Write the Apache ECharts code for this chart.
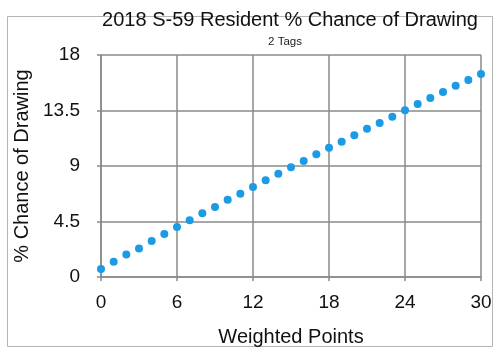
<!DOCTYPE html>
<html>
<head>
<meta charset="utf-8">
<script src="https://cdn.jsdelivr.net/npm/echarts@6/dist/echarts.min.js"></script>
<style>
html,body{margin:0;padding:0;background:#fff;}
#chart{width:500px;height:352px;}
</style>
</head>
<body>
<div id="chart"></div>
<script>
const titleText = "2018 S-59 Resident % Chance of Drawing";
const subtitleText = "2 Tags";
const xAxisName = "Weighted Points";
const yAxisName = "% Chance of Drawing";
const weightedPoints = [0,1,2,3,4,5,6,7,8,9,10,11,12,13,14,15,16,17,18,19,20,21,22,23,24,25,26,27,28,29,30];
const chancePct = [0.65,1.24,1.83,2.32,2.92,3.49,4.05,4.6,5.17,5.68,6.27,6.76,7.3,7.84,8.38,8.9,9.41,9.95,10.47,10.97,11.49,12.03,12.49,13.0,13.53,14.03,14.52,15.0,15.51,15.98,16.46];
const yTicks = [0,4.5,9,13.5,18];
const xTicks = [0,6,12,18,24,30];

const FONT = "Liberation Sans, Arial, Helvetica, sans-serif";
const chart = echarts.init(document.getElementById('chart'), null, {renderer:'canvas'});
const gridColor = '#8a8a8a';
chart.setOption({
  animation:false,
  backgroundColor:'#fff',
  graphic:[{
    type:'rect', shape:{x:7.5,y:16.5,width:485,height:330},
    style:{fill:'none',stroke:'#b4b4b4',lineWidth:1}, z:-1
  }],
  title:[
    {text:titleText,left:290,top:10,textAlign:'center',padding:0,
     textStyle:{fontFamily:FONT,fontSize:20,fontWeight:'normal',color:'#111'}},
    {text:subtitleText,left:285,top:36,textAlign:'center',padding:0,
     textStyle:{fontFamily:FONT,fontSize:11.5,fontWeight:'normal',color:'#222'}}
  ],
  grid:{left:101,right:19,top:55,bottom:75,containLabel:false,outerBoundsMode:'none'},
  xAxis:{
    type:'value',min:xTicks[0],max:xTicks[xTicks.length-1],interval:6,
    name:xAxisName,nameLocation:'middle',nameGap:50,
    nameTextStyle:{fontFamily:FONT,fontSize:20,color:'#111'},
    axisLine:{show:true,lineStyle:{color:gridColor,width:1.5}},
    axisTick:{show:true,length:4,inside:false,lineStyle:{color:gridColor,width:1.5}},
    axisLabel:{fontFamily:FONT,fontSize:19,color:'#111',margin:16},
    splitLine:{show:true,lineStyle:{color:gridColor,width:1.5}}
  },
  yAxis:{
    type:'value',min:yTicks[0],max:yTicks[yTicks.length-1],interval:4.5,
    name:yAxisName,nameLocation:'middle',nameGap:69,nameRotate:90,
    nameTextStyle:{fontFamily:FONT,fontSize:20,color:'#111'},
    axisLine:{show:true,lineStyle:{color:gridColor,width:1.5}},
    axisTick:{show:true,length:4,lineStyle:{color:gridColor,width:1.5}},
    axisLabel:{fontFamily:FONT,fontSize:19,color:'#111',margin:21},
    splitLine:{show:true,lineStyle:{color:gridColor,width:1.5}}
  },
  series:[{
    type:'scatter',
    data:weightedPoints.map((x,i)=>[x,chancePct[i]]),
    symbol:'circle',symbolSize:8,
    itemStyle:{color:'#1b9be6',opacity:1},
    z:5
  }]
});
</script>
</body>
</html>
